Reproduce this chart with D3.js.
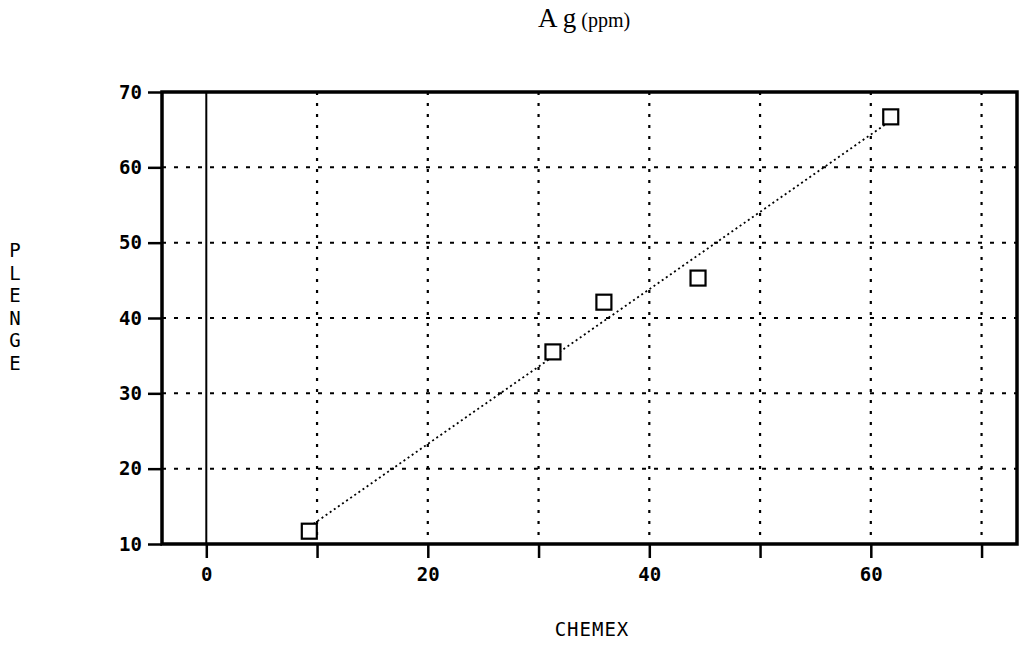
<!DOCTYPE html>
<html><head><meta charset="utf-8">
<script src="https://cdn.jsdelivr.net/npm/d3@7"></script>
<style>body{margin:0;background:#fff;} svg{display:block;}</style>
</head><body>
<svg id="c" width="1030" height="650"></svg>
<script>
// Data
const chemex = [9.3, 31.3, 35.9, 44.4, 61.8];
const plenge = [11.7, 35.5, 42.1, 45.3, 66.7];
const xTicks = [0, 20, 40, 60];
const xMinorTicks = [10, 30, 50, 70];
const yTicks = [10, 20, 30, 40, 50, 60, 70];
const xGrid = [10, 20, 30, 40, 50, 60, 70];
const yGrid = [20, 30, 40, 50, 60];
const yLabel = "PLENGE";
const xLabel = "CHEMEX";

const svg = d3.select("#c");
const L = 162, R = 1017, T = 92, B = 544;
const x = d3.scaleLinear().domain([-4, 73.2]).range([L, R]);
const y = d3.scaleLinear().domain([10, 70]).range([B, T]);
const mono = "'DejaVu Sans Mono', monospace";

// grid
svg.append("g").selectAll("line").data(xGrid).join("line")
  .attr("x1", d => x(d)).attr("x2", d => x(d)).attr("y1", T).attr("y2", B)
  .attr("stroke", "#000").attr("stroke-width", 2.2).attr("stroke-dasharray", "3,8");
svg.append("g").selectAll("line").data(yGrid).join("line")
  .attr("x1", L).attr("x2", R).attr("y1", d => y(d)).attr("y2", d => y(d))
  .attr("stroke", "#000").attr("stroke-width", 2).attr("stroke-dasharray", "4,8");

// zero line
svg.append("line").attr("x1", x(0)).attr("x2", x(0)).attr("y1", T).attr("y2", B)
  .attr("stroke", "#000").attr("stroke-width", 2);

// axes
const xAxis = d3.axisBottom(x).tickValues(xTicks.concat(xMinorTicks)).tickSize(14)
  .tickFormat(d => xTicks.includes(d) ? d : "");
const gx = svg.append("g").attr("transform", `translate(0,${B})`).call(xAxis);
gx.select(".domain").remove();
gx.selectAll(".tick line").attr("stroke", "#000").attr("stroke-width", 2.5);
gx.selectAll(".tick text").attr("font-family", mono).attr("font-size", 19).attr("font-weight", "bold")
  .attr("fill", "#000").attr("dy", "1.05em");

const yAxis = d3.axisLeft(y).tickValues(yTicks).tickSize(14).tickPadding(6);
const gy = svg.append("g").attr("transform", `translate(${L},0)`).call(yAxis);
gy.select(".domain").remove();
gy.selectAll(".tick line").attr("stroke", "#000").attr("stroke-width", 2.5);
gy.selectAll(".tick text").attr("font-family", mono).attr("font-size", 19).attr("font-weight", "bold")
  .attr("fill", "#000");

// frame
svg.append("rect").attr("x", L).attr("y", T).attr("width", R - L).attr("height", B - T)
  .attr("fill", "none").attr("stroke", "#000").attr("stroke-width", 3.5);

// regression line
const mx = d3.mean(chemex), my = d3.mean(plenge);
const sxy = d3.sum(chemex, (v, i) => (v - mx) * (plenge[i] - my));
const sxx = d3.sum(chemex, v => (v - mx) * (v - mx));
const slope = sxy / sxx, icpt = my - slope * mx;
const x0 = d3.min(chemex), x1 = d3.max(chemex);
svg.append("line")
  .attr("x1", x(x0)).attr("y1", y(icpt + slope * x0))
  .attr("x2", x(x1)).attr("y2", y(icpt + slope * x1))
  .attr("stroke", "#000").attr("stroke-width", 1.8).attr("stroke-dasharray", "2,3");

// points
svg.append("g").selectAll("rect").data(chemex).join("rect")
  .attr("x", d => x(d) - 7.5).attr("y", (d, i) => y(plenge[i]) - 7.5)
  .attr("width", 15).attr("height", 15)
  .attr("fill", "#fff").attr("stroke", "#000").attr("stroke-width", 2.2);

// title
const title = svg.append("text").attr("x", 538).attr("y", 27)
  .attr("font-family", "'Liberation Serif', serif").attr("fill", "#000");
title.append("tspan").attr("font-size", 27).text("A g");
title.append("tspan").attr("font-size", 20).attr("dx", 5).text("(ppm)");

// x label
svg.append("text").attr("x", 592).attr("y", 636).attr("text-anchor", "middle")
  .attr("font-family", mono).attr("font-size", 19).attr("letter-spacing", 1)
  .attr("fill", "#000").text(xLabel);

// y label, stacked letters
svg.append("g").selectAll("text").data(yLabel.split("")).join("text")
  .attr("x", 15).attr("y", (d, i) => 257 + i * 22.5).attr("text-anchor", "middle")
  .attr("font-family", mono).attr("font-size", 19).attr("fill", "#000").text(d => d);
</script>
</body></html>
